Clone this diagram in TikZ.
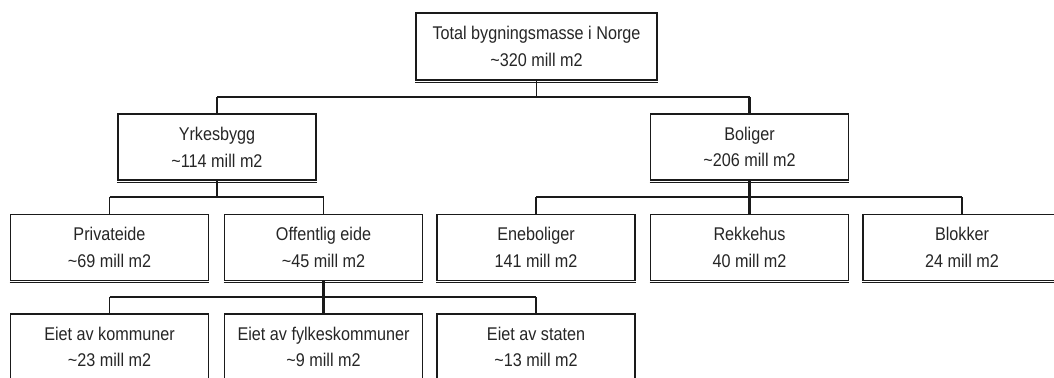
\documentclass[tikz,border=0pt]{standalone}
\usepackage{fontspec}
\setmainfont{Liberation Sans}[FakeStretch=0.88]
\definecolor{ink}{HTML}{1A1A1A}
\definecolor{txt}{HTML}{262626}
\begin{document}
\begin{tikzpicture}[x=0.5pt,y=-0.5pt,
  box/.style={draw=ink,line width=0.9pt,fill=white,inner sep=0pt,
    minimum width=99pt,minimum height=33pt,align=center,text=txt,
    font=\fontsize{9.2}{13.4}\selectfont},
  wide/.style={box,minimum width=120.5pt,minimum height=33.5pt},
  shadowline/.style={draw=ink,line width=0.5pt},
  stem/.style={draw=ink,line width=1.1pt},
  bus/.style={draw=ink,line width=0.9pt},
  drop/.style={draw=ink,line width=0.6pt}]
\clip (0,0) rectangle (1054,377);
\useasboundingbox (0,0) rectangle (1054,377);
% level 0
\node[wide] (top) at (536.5,46.5) {Total bygningsmasse i Norge\\\textasciitilde320 mill m2};
% level 1
\node[box] (yrk) at (217,147) {Yrkesbygg\\\textasciitilde114 mill m2};
\node[box] (bol) at (749.5,147) {Boliger\\\textasciitilde206 mill m2};
% level 2
\node[box] (pri) at (109.5,247.5) {Privateide\\\textasciitilde69 mill m2};
\node[box] (off) at (323.5,247.5) {Offentlig eide\\\textasciitilde45 mill m2};
\node[box] (ene) at (536,247.5) {Eneboliger\\141 mill m2};
\node[box] (rek) at (749.5,247.5) {Rekkehus\\40 mill m2};
\node[box] (blo) at (962,247.5) {Blokker\\24 mill m2};
% level 3
\node[box] (kom) at (109.5,347) {Eiet av kommuner\\\textasciitilde23 mill m2};
\node[box] (fyl) at (323.5,347) {Eiet av fylkeskommuner\\\textasciitilde9 mill m2};
\node[box] (sta) at (536,347) {Eiet av staten\\\textasciitilde13 mill m2};
% shadows along bottom edges
\foreach \n in {top,yrk,bol,pri,off,ene,rek,blo}
  \draw[shadowline] ([yshift=-0.6pt]\n.south west) -- ([yshift=-0.6pt]\n.south east);
% bus levels
\coordinate (b0) at (0,97);
\coordinate (b1) at (0,197);
\coordinate (b2) at (0,297);
% connectors level 0 -> 1
\draw[drop] (top.south) -- (top.south |- b0);
\draw[stem,line width=1.3pt] (yrk.north |- b0) -- (bol.north |- b0);
\draw[stem] (yrk.north) -- (yrk.north |- b0);
\draw[stem] (bol.north) -- (bol.north |- b0);
% Yrkesbygg -> level 2
\draw[stem] (yrk.south) -- (yrk.south |- b1);
\draw[bus] (pri.north |- b1) -- (off.north |- b1);
\draw[drop] (pri.north) -- (pri.north |- b1);
\draw[drop] (off.north) -- (off.north |- b1);
% Boliger -> level 2
\draw[stem] (bol.south) -- (rek.north);
\draw[bus] (ene.north |- b1) -- (blo.north |- b1);
\draw[drop] (ene.north) -- (ene.north |- b1);
\draw[drop] (blo.north) -- (blo.north |- b1);
% Offentlig eide -> level 3
\draw[stem] (off.south) -- (fyl.north);
\draw[bus] (kom.north |- b2) -- (sta.north |- b2);
\draw[drop] (kom.north) -- (kom.north |- b2);
\draw[drop] (sta.north) -- (sta.north |- b2);
\end{tikzpicture}
\end{document}
